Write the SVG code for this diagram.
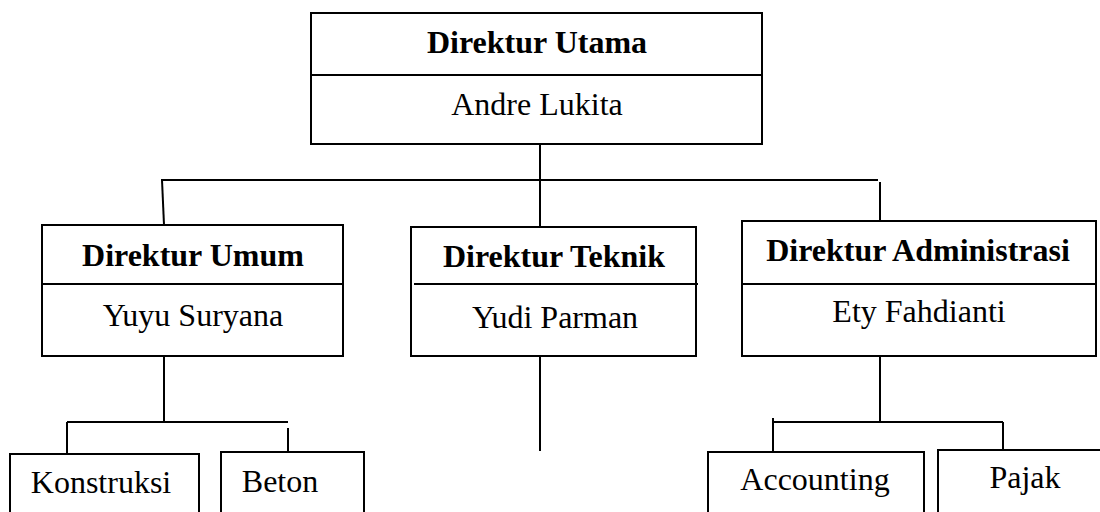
<svg xmlns="http://www.w3.org/2000/svg" width="1100" height="512" viewBox="0 0 1100 512">
<style>
.box{fill:#fff;stroke:#000;stroke-width:2}
.ln{stroke:#000;stroke-width:2;fill:none}
.t{font-family:"Liberation Serif","Times New Roman",serif;font-size:32px;fill:#000;text-anchor:middle}
.b{font-weight:bold}
</style>
<rect width="1100" height="512" fill="#fff"/>
<g id="connectors">
<line class="ln" x1="540" y1="144" x2="540" y2="227"/>
<line class="ln" x1="161" y1="180" x2="878" y2="180"/>
<line class="ln" x1="162" y1="180" x2="164" y2="225"/>
<line class="ln" x1="880" y1="182" x2="880" y2="221"/>
<line class="ln" x1="164" y1="356" x2="164" y2="422"/>
<line class="ln" x1="67" y1="422" x2="288" y2="422"/>
<line class="ln" x1="67" y1="422" x2="67" y2="454"/>
<line class="ln" x1="288" y1="428" x2="288" y2="452"/>
<line class="ln" x1="540" y1="356" x2="540" y2="451"/>
<line class="ln" x1="880" y1="356" x2="880" y2="422"/>
<line class="ln" x1="773" y1="422" x2="1003" y2="422"/>
<line class="ln" x1="773" y1="418" x2="773" y2="452"/>
<line class="ln" x1="1003" y1="422" x2="1003" y2="450"/>
</g>
<g id="direktur-utama">
<rect class="box" x="311" y="13" width="451" height="131"/>
<line class="ln" x1="311" y1="75" x2="762" y2="75"/>
<text class="t b" x="537" y="53">Direktur Utama</text>
<text class="t" x="537" y="115">Andre Lukita</text>
</g>
<g id="direktur-umum">
<rect class="box" x="42" y="225" width="301" height="131"/>
<line class="ln" x1="42" y1="284" x2="343" y2="284"/>
<text class="t b" x="193" y="266">Direktur Umum</text>
<text class="t" x="193" y="326">Yuyu Suryana</text>
</g>
<g id="direktur-teknik">
<rect class="box" x="411" y="227" width="285" height="129"/>
<line class="ln" x1="414" y1="284" x2="698" y2="284"/>
<text class="t b" x="554" y="267">Direktur Teknik</text>
<text class="t" x="555" y="328">Yudi Parman</text>
</g>
<g id="direktur-administrasi">
<rect class="box" x="742" y="221" width="354" height="135"/>
<line class="ln" x1="742" y1="284" x2="1096" y2="284"/>
<text class="t b" x="918" y="261">Direktur Administrasi</text>
<text class="t" x="919" y="322">Ety Fahdianti</text>
</g>
<g id="konstruksi">
<rect class="box" x="10" y="454" width="189" height="80"/>
<text class="t" x="101" y="493">Konstruksi</text>
</g>
<g id="beton">
<rect class="box" x="221" y="452" width="143" height="80"/>
<text class="t" x="280" y="492">Beton</text>
</g>
<g id="accounting">
<rect class="box" x="708" y="452" width="216" height="80"/>
<text class="t" x="815" y="490">Accounting</text>
</g>
<g id="pajak">
<rect class="box" x="938" y="450" width="200" height="80"/>
<text class="t" x="1025" y="488">Pajak</text>
</g>
</svg>
